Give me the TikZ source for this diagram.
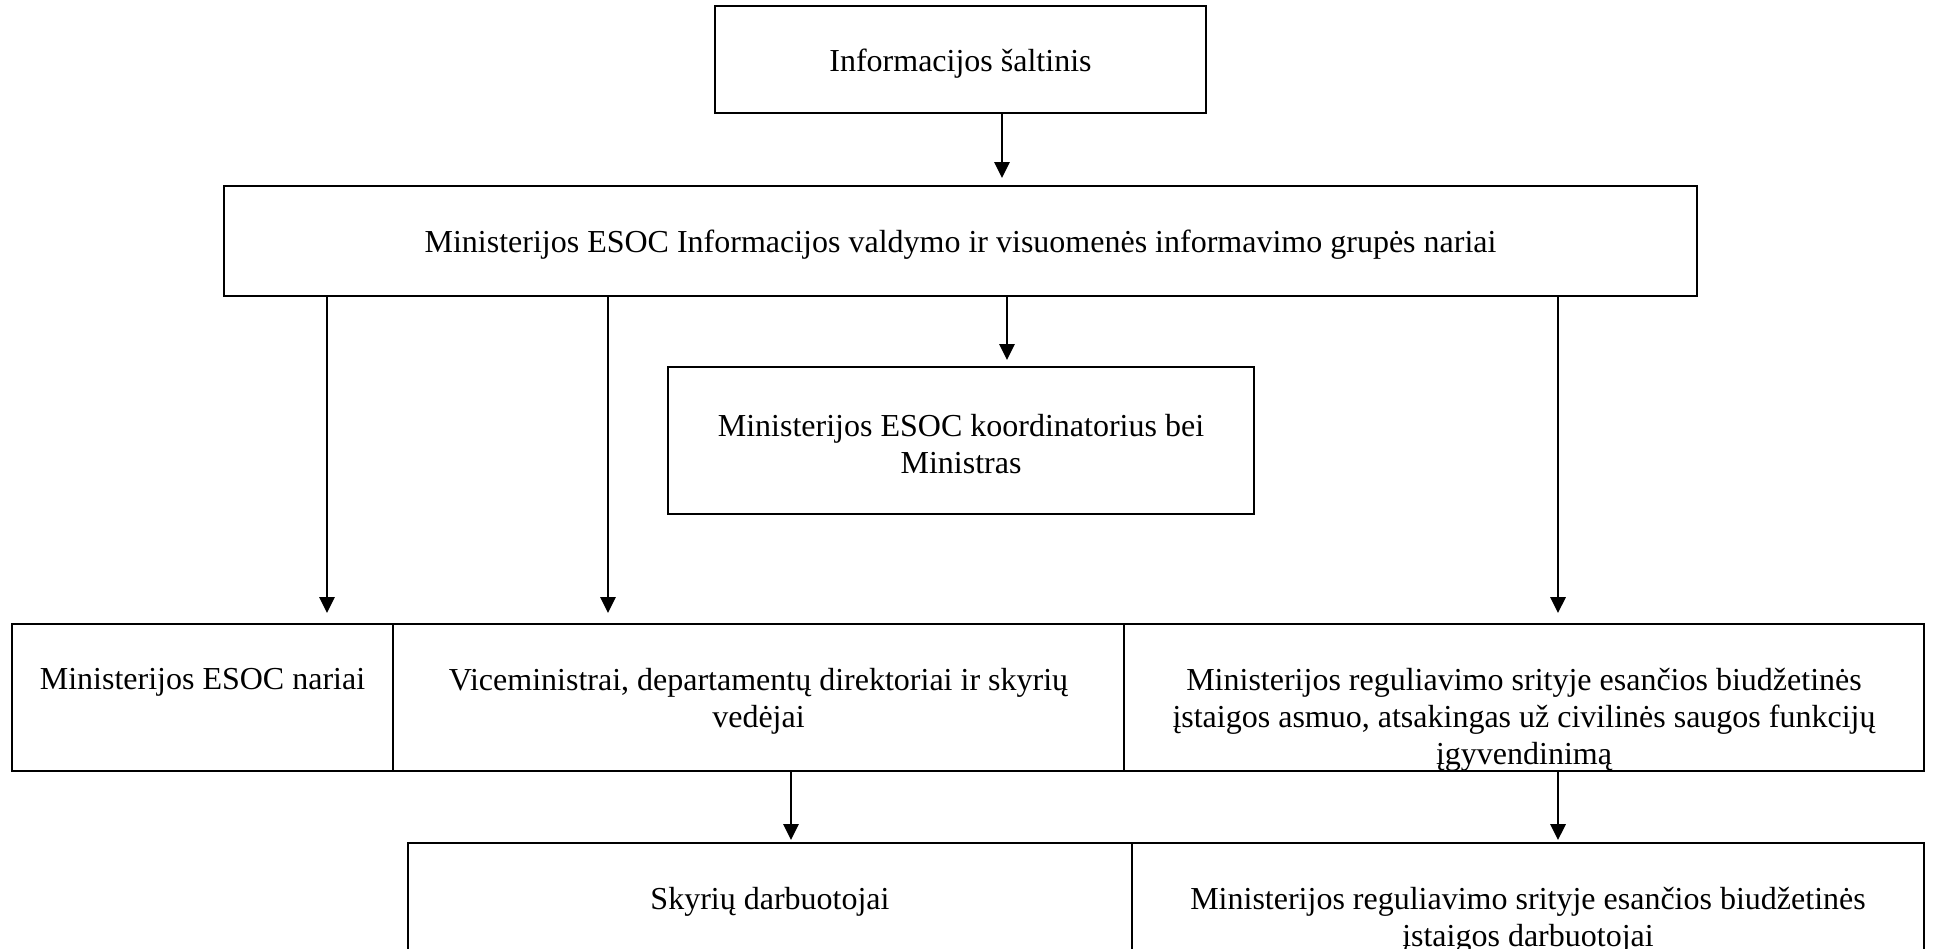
\documentclass[tikz,border=0pt]{standalone}
\usepackage{fontspec}
\setmainfont{Liberation Serif}
\usetikzlibrary{arrows.meta}
\begin{document}
\begin{tikzpicture}
  [x=0.4pt,y=-0.4pt,every node/.style={font=\fontsize{12.8}{14.8}\selectfont}]
  \tikzstyle{box} = [draw,line width=0.8pt,inner sep=0pt,align=center]
  \tikzstyle{ctext} = [anchor=center,yshift=-1.5pt,align=center,inner sep=0pt]
  \tikzstyle{cellt} = [anchor=north,yshift=-17.8pt,align=center,inner sep=0pt]
  \tikzstyle{arr} = [line width=0.7pt,-{Triangle[length=6.4pt,width=6.2pt]}]
  \useasboundingbox (0,0) rectangle (1934,948);
  \clip (0,0) rectangle (1934,948);

  \node[box,minimum width=196.4pt,minimum height=42.8pt,
    label={[ctext]center:Informacijos šaltinis}] (src) at (960.5,59.5) {};
  \node[box,minimum width=589.2pt,minimum height=44pt,
    label={[ctext]center:Ministerijos ESOC Informacijos valdymo ir visuomenės informavimo grupės nariai}] (grp) at (960.5,241) {};
  \node[box,minimum width=234.4pt,minimum height=58.8pt,
    label={[ctext]center:Ministerijos ESOC koordinatorius bei\\Ministras}] (coord) at (961,440.5) {};

  \node[box,minimum width=152.4pt,minimum height=58.8pt,
    label={[cellt]north:Ministerijos ESOC nariai}] (r3a) at (202.5,697.5) {};
  \node[box,minimum width=292.4pt,minimum height=58.8pt,
    label={[cellt]north:Viceministrai, departamentų direktoriai ir skyrių\\vedėjai}] (r3b) at (758.5,697.5) {};
  \node[box,minimum width=320pt,minimum height=58.8pt,
    label={[cellt]north:Ministerijos reguliavimo srityje esančios biudžetinės\\įstaigos asmuo, atsakingas už civilinės saugos funkcijų\\įgyvendinimą}] (r3c) at (1524,697.5) {};

  \node[box,minimum width=289.6pt,minimum height=58.8pt,
    label={[cellt]north:Skyrių darbuotojai}] (r4a) at (770,916.5) {};
  \node[box,minimum width=316.8pt,minimum height=58.8pt,
    label={[cellt]north:Ministerijos reguliavimo srityje esančios biudžetinės\\įstaigos darbuotojai}] (r4b) at (1528,916.5) {};

\foreach \from /\to /\xpos /\gap in {src/grp/1002/2.8pt,grp/coord/1007/2.4pt,grp/r3a/327/4pt,
    grp/r3b/608/4pt,grp/r3c/1558/4pt,r3b/r4a/791/0.8pt,r3c/r4b/1558/0.8pt} {
   \coordinate (ax) at (\xpos,0);
   \draw[arr,shorten >=\gap] (\from.south -| ax) -- (\to.north -| ax);
}
\end{tikzpicture}
\end{document}
